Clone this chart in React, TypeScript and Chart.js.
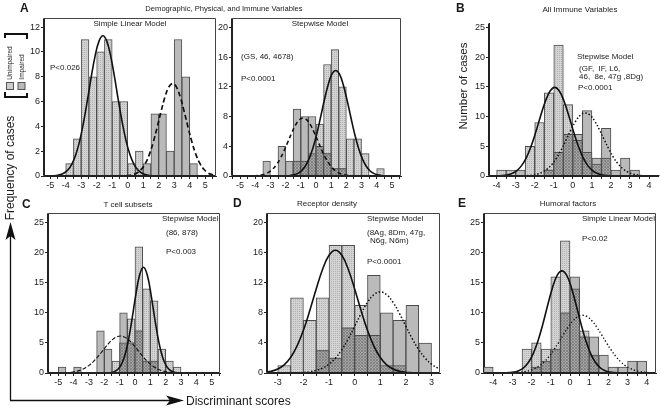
import React, { useEffect, useRef } from "react";
import { Chart, registerables } from "chart.js";

Chart.register(...registerables);

const FONT = '"Liberation Sans", Arial, Helvetica, sans-serif';

// ---------------- DATA ----------------
// Panel A (left) – Simple Linear Model
const A1_BINS = [-3.75, -3.25, -2.75, -2.25, -1.75, -1.25, -0.75, -0.25, 0.25, 0.75, 1.25, 1.75, 2.25, 2.75, 3.25, 3.75, 4.25];
const A1_UNIMPAIRED = [1, 3, 11, 8, 10, 11, 6, 6, 1, 2, 0, 0, 0, 0, 0, 0, 0];
const A1_IMPAIRED = [0, 0, 0, 0, 0, 0, 0, 0, 0, 0, 1, 5, 5, 2, 11, 8, 1];
const A1_FIT_U_X = [-5.1, -4.85, -4.6, -4.35, -4.1, -3.85, -3.6, -3.35, -3.1, -2.85, -2.6, -2.35, -2.1, -1.85, -1.6, -1.35, -1.1, -0.85, -0.6, -0.35, -0.1, 0.15, 0.4, 0.65, 0.9, 1.15, 1.4, 1.65, 1.9];
const A1_FIT_U_Y = [0.01, 0.02, 0.04, 0.11, 0.24, 0.5, 0.96, 1.71, 2.81, 4.31, 6.09, 7.99, 9.68, 10.87, 11.3, 10.87, 9.68, 7.99, 6.09, 4.31, 2.81, 1.71, 0.96, 0.5, 0.24, 0.11, 0.04, 0.02, 0.01];
const A1_FIT_I_X = [-0.1, 0.15, 0.4, 0.65, 0.9, 1.15, 1.4, 1.65, 1.9, 2.15, 2.4, 2.65, 2.9, 3.15, 3.4, 3.65, 3.9, 4.15, 4.4, 4.65, 4.9, 5.15, 5.4, 5.65];
const A1_FIT_I_Y = [0.02, 0.06, 0.13, 0.28, 0.56, 1.03, 1.74, 2.72, 3.91, 5.18, 6.34, 7.16, 7.45, 7.16, 6.34, 5.18, 3.91, 2.72, 1.74, 1.03, 0.56, 0.28, 0.13, 0.06];
const A1_X_LABELS = [-5, -4, -3, -2, -1, 0, 1, 2, 3, 4, 5];
const A1_Y_LABELS = [0, 2, 4, 6, 8, 10, 12];

// Panel A (right) – Stepwise Model
const A2_BINS = [-3.25, -2.75, -2.25, -1.75, -1.25, -0.75, -0.25, 0.25, 0.75, 1.25, 1.75, 2.25, 2.75, 3.25, 3.75, 4.25];
const A2_UNIMPAIRED = [0, 0, 0, 0, 2, 2, 3, 7, 15, 17, 12, 5, 5, 3, 0, 1];
const A2_IMPAIRED = [2, 0, 4, 2, 9, 8, 8, 4, 3, 1, 1, 0, 0, 0, 0, 0];
const A2_FIT_U_X = [-2.2, -1.95, -1.7, -1.45, -1.2, -0.95, -0.7, -0.45, -0.2, 0.05, 0.3, 0.55, 0.8, 1.05, 1.3, 1.55, 1.8, 2.05, 2.3, 2.55, 2.8, 3.05, 3.3, 3.55, 3.8, 4.05, 4.3, 4.55, 4.8];
const A2_FIT_U_Y = [0.01, 0.03, 0.07, 0.16, 0.35, 0.71, 1.34, 2.33, 3.76, 5.64, 7.87, 10.19, 12.25, 13.69, 14.2, 13.69, 12.25, 10.19, 7.87, 5.64, 3.76, 2.33, 1.34, 0.71, 0.35, 0.16, 0.07, 0.03, 0.01];
const A2_FIT_I_X = [-4.1, -3.85, -3.6, -3.35, -3.1, -2.85, -2.6, -2.35, -2.1, -1.85, -1.6, -1.35, -1.1, -0.85, -0.6, -0.35, -0.1, 0.15, 0.4, 0.65, 0.9, 1.15, 1.4, 1.65, 1.9, 2.15, 2.4];
const A2_FIT_I_Y = [0.03, 0.07, 0.14, 0.28, 0.53, 0.93, 1.53, 2.36, 3.4, 4.58, 5.78, 6.83, 7.55, 7.8, 7.55, 6.83, 5.78, 4.58, 3.4, 2.36, 1.53, 0.93, 0.53, 0.28, 0.14, 0.07, 0.03];
const A2_X_LABELS = [-5, -4, -3, -2, -1, 0, 1, 2, 3, 4, 5];
const A2_Y_LABELS = [0, 4, 8, 12, 16, 20];

// Panel B – All Immune Variables
const B_BINS = [-3.75, -3.25, -2.75, -2.25, -1.75, -1.25, -0.75, -0.25, 0.25, 0.75, 1.25, 1.75, 2.25, 2.75, 3.25];
const B_UNIMPAIRED = [1, 1, 0, 5, 9, 14, 22, 12, 6, 4, 2, 3, 0, 0, 0];
const B_IMPAIRED = [0, 0, 1, 0, 0, 1, 4, 7, 7, 11, 3, 8, 1, 3, 1];
const B_FIT_U_X = [-3.95, -3.7, -3.45, -3.2, -2.95, -2.7, -2.45, -2.2, -1.95, -1.7, -1.45, -1.2, -0.95, -0.7, -0.45, -0.2, 0.05, 0.3, 0.55, 0.8, 1.05, 1.3, 1.55, 1.8, 2.05];
const B_FIT_U_Y = [0.03, 0.07, 0.18, 0.41, 0.87, 1.7, 3.02, 4.92, 7.34, 10.0, 12.48, 14.25, 14.9, 14.25, 12.48, 10.0, 7.34, 4.92, 3.02, 1.7, 0.87, 0.41, 0.18, 0.07, 0.03];
const B_FIT_I_X = [-2.6, -2.35, -2.1, -1.85, -1.6, -1.35, -1.1, -0.85, -0.6, -0.35, -0.1, 0.15, 0.4, 0.65, 0.9, 1.15, 1.4, 1.65, 1.9, 2.15, 2.4, 2.65, 2.9, 3.15, 3.4, 3.65, 3.9];
const B_FIT_I_Y = [0.03, 0.07, 0.16, 0.33, 0.64, 1.16, 1.94, 3.05, 4.46, 6.09, 7.76, 9.23, 10.24, 10.6, 10.24, 9.23, 7.76, 6.09, 4.46, 3.05, 1.94, 1.16, 0.64, 0.33, 0.16, 0.07, 0.03];
const B_X_LABELS = [-4, -3, -2, -1, 0, 1, 2, 3, 4];
const B_Y_LABELS = [0, 5, 10, 15, 20, 25];

// Panel C – T cell subsets
const C_BINS = [-4.75, -4.25, -3.75, -3.25, -2.75, -2.25, -1.75, -1.25, -0.75, -0.25, 0.25, 0.75, 1.25, 1.75, 2.25, 2.75];
const C_UNIMPAIRED = [0, 0, 0, 0, 0, 0, 0, 2, 5, 9, 21, 14, 12, 4, 2, 1];
const C_IMPAIRED = [1, 0, 1, 0, 0, 7, 4, 0, 10, 5, 7, 2, 2, 0, 0, 0];
const C_FIT_U_X = [-1.95, -1.7, -1.45, -1.2, -0.95, -0.7, -0.45, -0.2, 0.05, 0.3, 0.55, 0.8, 1.05, 1.3, 1.55, 1.8, 2.05, 2.3, 2.55, 2.8, 3.05];
const C_FIT_U_Y = [0.01, 0.04, 0.13, 0.42, 1.13, 2.61, 5.19, 8.86, 12.97, 16.31, 17.6, 16.31, 12.97, 8.86, 5.19, 2.61, 1.13, 0.42, 0.13, 0.04, 0.01];
const C_FIT_I_X = [-4.95, -4.7, -4.45, -4.2, -3.95, -3.7, -3.45, -3.2, -2.95, -2.7, -2.45, -2.2, -1.95, -1.7, -1.45, -1.2, -0.95, -0.7, -0.45, -0.2, 0.05, 0.3, 0.55, 0.8, 1.05, 1.3, 1.55, 1.8, 2.05, 2.3, 2.55, 2.8, 3.05];
const C_FIT_I_Y = [0.01, 0.03, 0.06, 0.11, 0.2, 0.35, 0.58, 0.91, 1.36, 1.93, 2.63, 3.41, 4.21, 4.97, 5.6, 6.01, 6.15, 6.01, 5.6, 4.97, 4.21, 3.41, 2.63, 1.93, 1.36, 0.91, 0.58, 0.35, 0.2, 0.11, 0.06, 0.03, 0.01];
const C_X_LABELS = [-5, -4, -3, -2, -1, 0, 1, 2, 3, 4, 5];
const C_Y_LABELS = [0, 5, 10, 15, 20, 25];

// Panel D – Receptor density
const D_BINS = [-2.75, -2.25, -1.75, -1.25, -0.75, -0.25, 0.25, 0.75, 1.25, 1.75, 2.25, 2.75];
const D_UNIMPAIRED = [1, 10, 7, 10, 17, 17, 9, 5, 1, 1, 0, 0];
const D_IMPAIRED = [0, 0, 0, 3, 2, 6, 5, 13, 8, 7, 9, 4];
const D_FIT_U_X = [-3.5, -3.25, -3.0, -2.75, -2.5, -2.25, -2.0, -1.75, -1.5, -1.25, -1.0, -0.75, -0.5, -0.25, 0, 0.25, 0.5, 0.75, 1.0, 1.25, 1.5, 1.75, 2.0, 2.25];
const D_FIT_U_Y = [0.1, 0.24, 0.53, 1.09, 2.06, 3.57, 5.68, 8.32, 11.18, 13.81, 15.67, 16.35, 15.67, 13.81, 11.18, 8.32, 5.68, 3.57, 2.06, 1.09, 0.53, 0.24, 0.1, 0.04];
const D_FIT_I_X = [-2.25, -2.0, -1.75, -1.5, -1.25, -1.0, -0.75, -0.5, -0.25, 0, 0.25, 0.5, 0.75, 1.0, 1.25, 1.5, 1.75, 2.0, 2.25, 2.5, 2.75, 3.0, 3.25, 3.5];
const D_FIT_I_Y = [0.03, 0.07, 0.16, 0.34, 0.65, 1.18, 1.98, 3.11, 4.54, 6.21, 7.91, 9.4, 10.43, 10.8, 10.43, 9.4, 7.91, 6.21, 4.54, 3.11, 1.98, 1.18, 0.65, 0.34];
const D_X_LABELS = [-3, -2, -1, 0, 1, 2, 3];
const D_Y_LABELS = [0, 4, 8, 12, 16, 20];

// Panel E – Humoral factors
const E_BINS = [-4.25, -3.75, -3.25, -2.75, -2.25, -1.75, -1.25, -0.75, -0.25, 0.25, 0.75, 1.25, 1.75, 2.25, 2.75, 3.25, 3.75];
const E_UNIMPAIRED = [0, 0, 0, 0, 4, 5, 4, 16, 22, 14, 7, 3, 0, 0, 0, 0, 0];
const E_IMPAIRED = [1, 0, 0, 0, 0, 1, 2, 4, 10, 16, 6, 6, 3, 1, 1, 2, 2];
const E_FIT_U_X = [-3.42, -3.17, -2.92, -2.67, -2.42, -2.17, -1.92, -1.67, -1.42, -1.17, -0.92, -0.67, -0.42, -0.17, 0.08, 0.33, 0.58, 0.83, 1.08, 1.33, 1.58, 1.83, 2.08, 2.33, 2.58];
const E_FIT_U_Y = [0.02, 0.06, 0.16, 0.39, 0.87, 1.74, 3.19, 5.32, 8.08, 11.19, 14.12, 16.23, 17.0, 16.23, 14.12, 11.19, 8.08, 5.32, 3.19, 1.74, 0.87, 0.39, 0.16, 0.06, 0.02];
const E_FIT_I_X = [-3.1, -2.85, -2.6, -2.35, -2.1, -1.85, -1.6, -1.35, -1.1, -0.85, -0.6, -0.35, -0.1, 0.15, 0.4, 0.65, 0.9, 1.15, 1.4, 1.65, 1.9, 2.15, 2.4, 2.65, 2.9, 3.15, 3.4, 3.65, 3.9, 4.15, 4.4];
const E_FIT_I_Y = [0.03, 0.06, 0.12, 0.23, 0.42, 0.73, 1.18, 1.84, 2.71, 3.79, 5.03, 6.35, 7.61, 8.66, 9.36, 9.6, 9.36, 8.66, 7.61, 6.35, 5.03, 3.79, 2.71, 1.84, 1.18, 0.73, 0.42, 0.23, 0.12, 0.06, 0.03];
const E_X_LABELS = [-4, -3, -2, -1, 0, 1, 2, 3, 4];
const E_Y_LABELS = [0, 5, 10, 15, 20, 25];

// ---------------- LAYOUT ----------------
type Panel = {
  key: string;
  left: number; top: number; width: number; height: number;
  xMin: number; xMax: number; yMax: number;
  xLabels: number[]; yLabels: number[];
  bins: number[]; unimpaired: number[]; impaired: number[];
  fitUx: number[]; fitUy: number[]; fitIx: number[]; fitIy: number[];
  dash: number[]; dashWidth: number; frame: boolean;
};

const PANELS: Panel[] = [
  { key: "A1", left: 44, top: 15, width: 172, height: 161, xMin: -5.4, xMax: 5.7, yMax: 12.7,
    xLabels: A1_X_LABELS, yLabels: A1_Y_LABELS, bins: A1_BINS, unimpaired: A1_UNIMPAIRED, impaired: A1_IMPAIRED,
    fitUx: A1_FIT_U_X, fitUy: A1_FIT_U_Y, fitIx: A1_FIT_I_X, fitIy: A1_FIT_I_Y, dash: [5, 3], dashWidth: 1.7, frame: true },
  { key: "A2", left: 232, top: 15, width: 169, height: 161, xMin: -5.53, xMax: 5.6, yMax: 21.2,
    xLabels: A2_X_LABELS, yLabels: A2_Y_LABELS, bins: A2_BINS, unimpaired: A2_UNIMPAIRED, impaired: A2_IMPAIRED,
    fitUx: A2_FIT_U_X, fitUy: A2_FIT_U_Y, fitIx: A2_FIT_I_X, fitIy: A2_FIT_I_Y, dash: [4, 3], dashWidth: 1.6, frame: true },
  { key: "B", left: 489, top: 20, width: 169, height: 156, xMin: -4.4, xMax: 4.47, yMax: 25.66,
    xLabels: B_X_LABELS, yLabels: B_Y_LABELS, bins: B_BINS, unimpaired: B_UNIMPAIRED, impaired: B_IMPAIRED,
    fitUx: B_FIT_U_X, fitUy: B_FIT_U_Y, fitIx: B_FIT_I_X, fitIy: B_FIT_I_Y, dash: [1.5, 2], dashWidth: 1.5, frame: false },
  { key: "C", left: 48, top: 210, width: 172, height: 163, xMin: -5.67, xMax: 5.54, yMax: 26.56,
    xLabels: C_X_LABELS, yLabels: C_Y_LABELS, bins: C_BINS, unimpaired: C_UNIMPAIRED, impaired: C_IMPAIRED,
    fitUx: C_FIT_U_X, fitUy: C_FIT_U_Y, fitIx: C_FIT_I_X, fitIy: C_FIT_I_Y, dash: [4, 2], dashWidth: 1.1, frame: true },
  { key: "D", left: 267, top: 210, width: 173, height: 163, xMin: -3.42, xMax: 3.33, yMax: 21.25,
    xLabels: D_X_LABELS, yLabels: D_Y_LABELS, bins: D_BINS, unimpaired: D_UNIMPAIRED, impaired: D_IMPAIRED,
    fitUx: D_FIT_U_X, fitUy: D_FIT_U_Y, fitIx: D_FIT_I_X, fitIy: D_FIT_I_Y, dash: [1.5, 2], dashWidth: 1.5, frame: true },
  { key: "E", left: 484, top: 210, width: 172, height: 163, xMin: -4.48, xMax: 4.48, yMax: 26.56,
    xLabels: E_X_LABELS, yLabels: E_Y_LABELS, bins: E_BINS, unimpaired: E_UNIMPAIRED, impaired: E_IMPAIRED,
    fitUx: E_FIT_U_X, fitUy: E_FIT_U_Y, fitIx: E_FIT_I_X, fitIy: E_FIT_I_Y, dash: [1.3, 2.2], dashWidth: 1.4, frame: true },
];

const YW = 22; // y axis area width
const XH = 16; // x axis area height
const PT = 3;
const PR = 4;

function makePattern(size: number, bg: string, dots: number[][], dotColor: string) {
  const c = document.createElement("canvas");
  c.width = size; c.height = size;
  const g = c.getContext("2d")!;
  g.fillStyle = bg; g.fillRect(0, 0, size, size);
  g.fillStyle = dotColor;
  dots.forEach(([x, y]) => g.fillRect(x, y, 1, 1));
  return g.createPattern(c, "repeat")!;
}

const framePlugin = {
  id: "frame",
  afterDatasetsDraw(chart: any, _args: any, opts: any) {
    const { ctx, chartArea: a } = chart;
    const l = Math.round(a.left) - 0.5, r = Math.round(a.right) - 0.5;
    const t = Math.round(a.top) + 0.5, b = Math.round(a.bottom) - 0.5;
    ctx.save();
    ctx.strokeStyle = "#222";
    ctx.lineWidth = 1;
    ctx.beginPath();
    ctx.moveTo(l, t); ctx.lineTo(l, b); ctx.lineTo(r + (opts && opts.box ? 0 : 2), b);
    ctx.stroke();
    if (opts && opts.box) {
      ctx.strokeStyle = "#444";
      ctx.beginPath();
      ctx.moveTo(l, t); ctx.lineTo(r, t); ctx.lineTo(r, b);
      ctx.stroke();
    }
    ctx.restore();
  },
};

function halfTicks(labels: number[], min: number, max: number) {
  const out: number[] = [];
  for (let v = labels[0] - 0.5; v <= labels[labels.length - 1] + 0.5 + 1e-9; v += 0.5) {
    if (v > min + 1e-9 && v < max - 1e-9) out.push(Math.round(v * 2) / 2);
  }
  return out;
}

function PanelChart({ p }: { p: Panel }) {
  const ref = useRef<HTMLCanvasElement | null>(null);
  const W = p.width + YW + PR;
  const H = p.height + PT + XH;
  useEffect(() => {
    const canvas = ref.current!;
    const light = makePattern(2, "#d3d3d3", [[0, 0]], "#b2b2b2");
    const dark = makePattern(3, "#a4a4a4", [[0, 0], [1, 1], [2, 2], [2, 0], [0, 2]], "#848484");
    const pts = (vals: number[]) => p.bins.map((x, i) => ({ x, y: vals[i] > 0 ? vals[i] : null }));
    const overlap = p.bins.map((x, i) => {
      const m = Math.min(p.unimpaired[i], p.impaired[i]);
      return { x, y: m > 0 ? m : null };
    });
    const line = (xs: number[], ys: number[]) => xs.map((x, i) => ({ x, y: ys[i] }));
    const xTicks = halfTicks(p.xLabels, p.xMin, p.xMax);
    const barCommon = {
      type: "bar" as const, grouped: false, barPercentage: 1, categoryPercentage: 1,
      borderColor: "#4d4d4d", borderWidth: 1, borderSkipped: "start" as const,
    };
    const isInt = (v: number) => Math.abs(v - Math.round(v)) < 1e-6;
    const chart = new Chart(canvas, {
      type: "bar",
      data: {
        datasets: [
          { type: "line", data: line(p.fitUx, p.fitUy), borderColor: "#111", borderWidth: 1.6, pointRadius: 0, tension: 0.4, fill: false, order: 0 } as any,
          { type: "line", data: line(p.fitIx, p.fitIy), borderColor: "#111", borderWidth: p.dashWidth, borderDash: p.dash, pointRadius: 0, tension: 0.4, fill: false, order: 0 } as any,
          { ...barCommon, data: overlap, backgroundColor: dark, order: 1 } as any,
          { ...barCommon, data: pts(p.impaired), backgroundColor: "#bababa", order: 2 } as any,
          { ...barCommon, data: pts(p.unimpaired), backgroundColor: light, order: 3 } as any,
        ],
      },
      options: {
        animation: false,
        responsive: false,
        devicePixelRatio: 1,
        events: [],
        layout: { padding: { left: 0, top: PT, right: PR, bottom: 0 } },
        plugins: { legend: { display: false }, tooltip: { enabled: false }, frame: { box: p.frame } } as any,
        scales: {
          x: {
            type: "linear", min: p.xMin, max: p.xMax, offset: false,
            grid: { display: true, drawOnChartArea: false, drawTicks: true, tickLength: 3, color: "#222", lineWidth: 1, offset: false },
            border: { display: true, color: "#222", width: 1 },
            ticks: {
              autoSkip: false, maxRotation: 0, minRotation: 0, padding: 1, color: "#222",
              font: { family: FONT, size: 9 },
              callback: (v: any) => (isInt(Number(v)) ? String(Math.round(Number(v))) : ""),
            },
            afterBuildTicks: (s: any) => { s.ticks = xTicks.map((value) => ({ value })); },
            afterFit: (s: any) => { s.height = XH; },
          },
          y: {
            type: "linear", min: 0, max: p.yMax,
            grid: { display: true, drawOnChartArea: false, drawTicks: true, tickLength: 3, color: "#222", lineWidth: 1 },
            border: { display: true, color: "#222", width: 1 },
            ticks: {
              autoSkip: false, padding: 1, color: "#222",
              font: { family: FONT, size: 9 },
              callback: (v: any) => String(v),
            },
            afterBuildTicks: (s: any) => { s.ticks = p.yLabels.map((value) => ({ value })); },
            afterFit: (s: any) => { s.width = YW; },
          },
        } as any,
      },
      plugins: [framePlugin],
    } as any);
    return () => chart.destroy();
  }, []);
  return (
    <canvas
      ref={ref}
      width={W}
      height={H}
      style={{ position: "absolute", left: p.left - YW, top: p.top - PT, width: W, height: H }}
    />
  );
}

type Txt = { t: string; x: number; y: number; s?: number; mid?: boolean; bold?: boolean; rot?: boolean };

const TEXTS: Txt[] = [
  { t: "A", x: 20, y: 8, s: 12, bold: true },
  { t: "B", x: 456, y: 8, s: 12, bold: true },
  { t: "C", x: 22, y: 204, s: 12, bold: true },
  { t: "D", x: 233, y: 203, s: 12, bold: true },
  { t: "E", x: 458, y: 203, s: 12, bold: true },
  { t: "Demographic, Physical, and Immune Variables", x: 224, y: 9, s: 7.6, mid: true },
  { t: "Simple Linear Model", x: 130, y: 24, s: 8, mid: true },
  { t: "P<0.026", x: 50, y: 68, s: 8 },
  { t: "Stepwise Model", x: 320, y: 24, s: 8, mid: true },
  { t: "(GS, 46, 4678)", x: 241, y: 57, s: 8 },
  { t: "P<0.0001", x: 241, y: 79, s: 8 },
  { t: "All Immune Variables", x: 580, y: 9.5, s: 8, mid: true },
  { t: "Stepwise Model", x: 577, y: 57, s: 8 },
  { t: "(GF,  IF, L6,", x: 579, y: 69, s: 8 },
  { t: "46,  8e, 47g ,8Dg)", x: 579, y: 77, s: 8 },
  { t: "P<0.0001", x: 578, y: 88, s: 8 },
  { t: "Number of cases", x: 464, y: 86, s: 11.5, rot: true },
  { t: "T cell subsets", x: 128, y: 204.5, s: 8, mid: true },
  { t: "Stepwise Model", x: 162, y: 219, s: 8 },
  { t: "(86, 878)", x: 166, y: 233, s: 8 },
  { t: "P<0.003", x: 166, y: 252, s: 8 },
  { t: "Receptor density", x: 327, y: 204, s: 8, mid: true },
  { t: "Stepwise Model", x: 367, y: 219, s: 8 },
  { t: "(8Ag, 8Dm, 47g,", x: 367, y: 233, s: 8 },
  { t: "N6g, N6m)", x: 370, y: 241, s: 8 },
  { t: "P<0.0001", x: 367, y: 262, s: 8 },
  { t: "Humoral factors", x: 568, y: 204, s: 8, mid: true },
  { t: "Simple Linear Model", x: 582, y: 219, s: 8 },
  { t: "P<0.02", x: 582, y: 239, s: 8 },
  { t: "Frequency of cases", x: 10, y: 168, s: 12, rot: true },
  { t: "Discriminant scores", x: 186, y: 401, s: 12 },
  { t: "Unimpaired", x: 10, y: 63, s: 6.5, rot: true },
  { t: "Impaired", x: 21.5, y: 67, s: 6.5, rot: true },
];

function Label({ d }: { d: Txt }) {
  const style: React.CSSProperties = {
    position: "absolute",
    left: d.x,
    top: d.y,
    fontSize: d.s || 8,
    lineHeight: 1,
    whiteSpace: "pre",
    fontWeight: d.bold ? 700 : 400,
    color: "#1a1a1a",
    transform: d.rot
      ? "translate(-50%, -50%) rotate(-90deg)"
      : d.mid
      ? "translate(-50%, -50%)"
      : "translate(0, -50%)",
  };
  return <div style={style}>{d.t}</div>;
}

export default function App() {
  return (
    <div
      style={{
        position: "fixed", left: 0, top: 0, width: 661, height: 411,
        background: "#fff", overflow: "hidden", fontFamily: FONT,
      }}
    >
      {PANELS.map((p) => (
        <PanelChart key={p.key} p={p} />
      ))}
      <svg width={661} height={411} style={{ position: "absolute", left: 0, top: 0, pointerEvents: "none" }}>
        <line x1={10.5} y1={400.5} x2={10.5} y2={234} stroke="#111" strokeWidth={1.3} />
        <polygon points="10.5,222 5.5,240 10.5,236 15.5,240" fill="#111" />
        <line x1={10} y1={400.5} x2={172} y2={400.5} stroke="#111" strokeWidth={1.3} />
        <polygon points="184,400.5 166,395.5 170,400.5 166,405.5" fill="#111" />
        <path d="M5 38 V34 H27 V39" fill="none" stroke="#111" strokeWidth={2} />
        <path d="M5 92 V97 H27 V93" fill="none" stroke="#111" strokeWidth={2} />
        <rect x={6.5} y={82.5} width={7} height={7} fill="#cccccc" stroke="#555" strokeWidth={1} />
        <rect x={18} y={82.5} width={7} height={7} fill="#bababa" stroke="#555" strokeWidth={1} />
      </svg>
      {TEXTS.map((d, i) => (
        <Label key={i} d={d} />
      ))}
    </div>
  );
}
